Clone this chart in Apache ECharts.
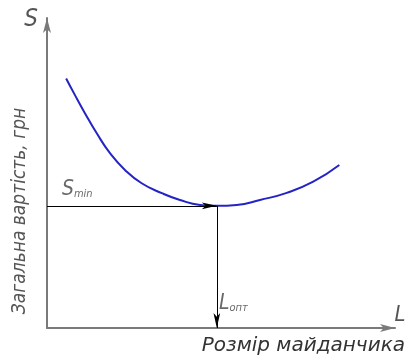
<!DOCTYPE html>
<html>
<head>
<meta charset="utf-8">
<script src="https://cdn.jsdelivr.net/npm/echarts@6/dist/echarts.min.js"></script>
<style>
  html, body { margin: 0; padding: 0; background: #fff; }
  #chart { width: 412px; height: 357px; }
</style>
</head>
<body>
<div id="chart"></div>
<script>
// загальна вартість від розміру майданчика (умовні одиниці)
const sizeX = [5.5, 8.0, 10.9, 14.3, 18.1, 22.4, 27.2, 33.0, 38.2, 44.0, 48.8, 54.5, 61.2, 68.9, 76.5, 84.0];
const costY = [80.5, 75.2, 69.3, 62.8, 56.4, 51.0, 46.7, 43.5, 41.3, 39.7, 39.4, 39.7, 41.3, 43.6, 47.2, 52.6];
const sMin = 39.4;
const lOpt = 48.8;

const chartDom = echarts.init(document.getElementById("chart"));

const curve = sizeX.map((x, i) => [x, costY[i]]);

const gost = "DejaVu Sans Condensed";

chartDom.setOption({
  animation: false,
  grid: { left: 47, right: 17, top: 18, bottom: 29 },
  xAxis: {
    type: "value",
    min: 0,
    max: 100,
    splitLine: { show: false },
    axisTick: { show: false },
    axisLabel: { show: false },
    axisLine: {
      symbol: ["none", "arrow"],
      symbolSize: [6, 15],
      lineStyle: { color: "#7a7a7a", width: 2 },
    },
  },
  yAxis: {
    type: "value",
    min: 0,
    max: 100,
    splitLine: { show: false },
    axisTick: { show: false },
    axisLabel: { show: false },
    axisLine: {
      symbol: ["none", "arrow"],
      symbolSize: [6, 15],
      lineStyle: { color: "#7a7a7a", width: 2 },
    },
  },
  graphic: [
    {
      type: "text",
      x: 20,
      y: 211,
      rotation: Math.PI / 2,
      style: {
        text: "Загальна вартість, грн",
        fontFamily: gost,
        fontStyle: "italic",
        fontSize: 19,
        fill: "#555",
        align: "center",
        verticalAlign: "middle",
      },
    },
    {
      type: "text",
      x: 405,
      y: 346,
      style: {
        text: "Розмір майданчика",
        fontFamily: "DejaVu Sans",
        fontStyle: "italic",
        fontSize: 20,
        fill: "#333",
        align: "right",
        verticalAlign: "middle",
      },
    },
    {
      type: "text",
      x: 31,
      y: 20,
      style: {
        text: "S",
        fontFamily: gost,
        fontStyle: "italic",
        fontSize: 24,
        fill: "#555",
        align: "center",
        verticalAlign: "middle",
      },
    },
    {
      type: "text",
      x: 400,
      y: 315,
      style: {
        text: "L",
        fontFamily: gost,
        fontStyle: "italic",
        fontSize: 22,
        fill: "#555",
        align: "center",
        verticalAlign: "middle",
      },
    },
  ],
  series: [
    {
      name: "cost",
      type: "line",
      data: curve,
      smooth: 0.5,
      symbol: "none",
      lineStyle: { color: "#2424c4", width: 2 },
      markLine: {
        silent: true,
        symbol: ["none", "arrow"],
        symbolSize: [5, 15],
        label: { show: false },
        lineStyle: { color: "#000", width: 1, type: "solid" },
        data: [
          [{ coord: [0, sMin] }, { coord: [lOpt, sMin] }],
          [{ coord: [lOpt, sMin] }, { coord: [lOpt, 0] }],
        ],
      },
    },
    {
      name: "labels",
      type: "scatter",
      symbolSize: 0,
      silent: true,
      data: [
        { value: [4.3, 41.3], label: { formatter: "{s|S}{sub|min}" } },
        { value: [49.4, 4.5], label: { formatter: "{s|L}{sub|опт}" } },
      ],
      label: {
        show: true,
        position: [0, 0],
        align: "left",
        verticalAlign: "bottom",
        rich: {
          s: {
            fontFamily: gost,
            fontStyle: "italic",
            fontSize: 21,
            color: "#444",
            verticalAlign: "bottom",
          },
          sub: {
            fontFamily: gost,
            fontStyle: "italic",
            fontSize: 11,
            color: "#444",
            verticalAlign: "bottom",
          },
        },
      },
    },
  ],
});
</script>
</body>
</html>
